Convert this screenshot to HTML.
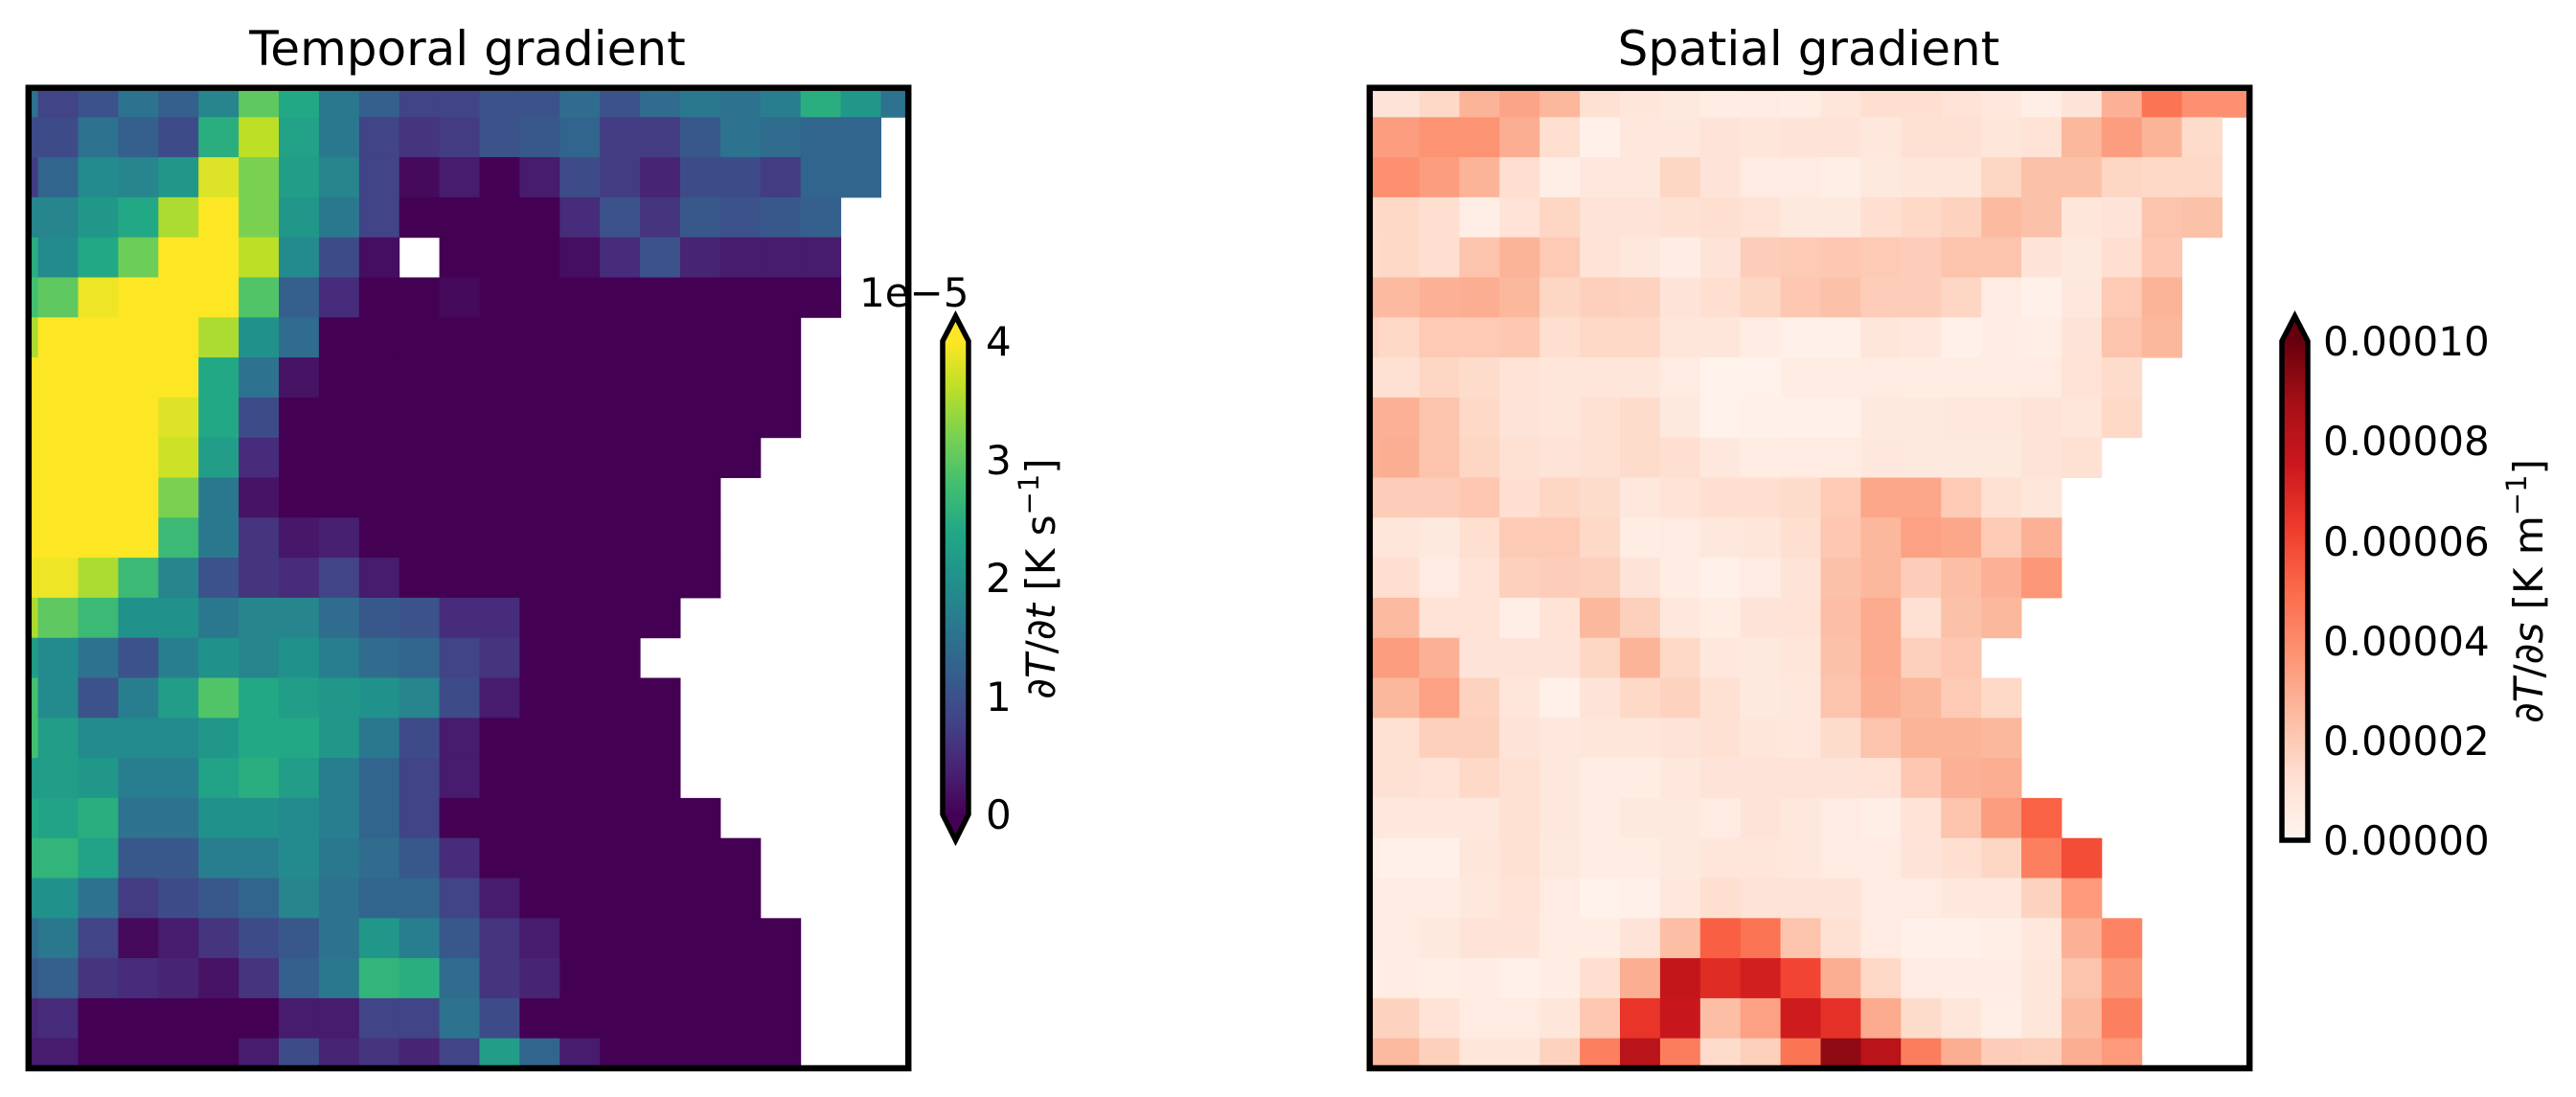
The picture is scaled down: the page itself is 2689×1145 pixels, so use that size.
<!DOCTYPE html>
<html><head><meta charset="utf-8"><style>
html,body{margin:0;padding:0;background:#fff;}
svg{display:block;}
text{font-family:"DejaVu Sans","Liberation Sans",sans-serif;fill:#000;}
</style></head><body>
<svg id="s" xmlns="http://www.w3.org/2000/svg" width="2689" height="1145" viewBox="0 0 2689 1145">
<defs>
<clipPath id="c1"><rect x="33" y="95" width="912" height="1017"/></clipPath>
<clipPath id="c2"><rect x="1433" y="95" width="912" height="1017"/></clipPath>
<linearGradient id="gv" x1="0" y1="1" x2="0" y2="0">
<stop offset="0" stop-color="#440154"/><stop offset="0.1" stop-color="#482475"/><stop offset="0.2" stop-color="#414487"/><stop offset="0.3" stop-color="#355f8d"/><stop offset="0.4" stop-color="#2a788e"/><stop offset="0.5" stop-color="#21918c"/><stop offset="0.6" stop-color="#22a884"/><stop offset="0.7" stop-color="#44bf70"/><stop offset="0.8" stop-color="#7ad151"/><stop offset="0.9" stop-color="#bddf26"/><stop offset="1" stop-color="#fde725"/>
</linearGradient>
<linearGradient id="gr" x1="0" y1="1" x2="0" y2="0">
<stop offset="0" stop-color="#fff5f0"/><stop offset="0.125" stop-color="#fee0d2"/><stop offset="0.25" stop-color="#fcbba1"/><stop offset="0.375" stop-color="#fc9272"/><stop offset="0.5" stop-color="#fb6a4a"/><stop offset="0.625" stop-color="#ef3b2c"/><stop offset="0.75" stop-color="#cb181d"/><stop offset="0.875" stop-color="#a50f15"/><stop offset="1" stop-color="#67000d"/>
</linearGradient>
</defs>
<g id="g1" clip-path="url(#c1)"></g>
<g id="g2" clip-path="url(#c2)"></g>
<rect x="29.8" y="91.7" width="918.4" height="1023.3" fill="none" stroke="#000" stroke-width="6.5"/>
<rect x="1429.8" y="91.7" width="918.4" height="1023.3" fill="none" stroke="#000" stroke-width="6.5"/>
<text x="488" y="68" font-size="50" text-anchor="middle">Temporal gradient</text>
<text x="1888" y="68" font-size="50" text-anchor="middle">Spatial gradient</text>

<!-- left colorbar -->
<rect x="984" y="355" width="27" height="496" fill="url(#gv)"/>
<polygon points="984,356 997.5,330 1011,356" fill="#fde725"/>
<polygon points="984,850 997.5,877 1011,850" fill="#440154"/>
<polygon points="984,356 997.5,330 1011,356 1011,850 997.5,877 984,850" fill="none" stroke="#000" stroke-width="5.5" stroke-linejoin="miter"/>
<g font-size="42">
<text x="1029" y="371">4</text>
<text x="1029" y="495">3</text>
<text x="1029" y="618">2</text>
<text x="1029" y="742">1</text>
<text x="1029" y="865">0</text>
<text x="897" y="320">1e−5</text>
</g>
<text transform="translate(1101,604) rotate(-90)" font-size="42" text-anchor="middle">∂<tspan font-style="italic">T</tspan>/∂<tspan font-style="italic">t</tspan> [K s<tspan font-size="29" dy="-17">−1</tspan><tspan dy="17">]</tspan></text>

<!-- right colorbar -->
<rect x="2382" y="355" width="27" height="522" fill="url(#gr)"/>
<polygon points="2382,356 2395.5,330 2409,356" fill="#67000d"/>
<polygon points="2382,356 2395.5,330 2409,356 2409,877 2382,877" fill="none" stroke="#000" stroke-width="5.5"/>
<g font-size="42">
<text x="2425" y="371">0.00010</text>
<text x="2425" y="475">0.00008</text>
<text x="2425" y="580">0.00006</text>
<text x="2425" y="684">0.00004</text>
<text x="2425" y="788">0.00002</text>
<text x="2425" y="892">0.00000</text>
</g>
<text transform="translate(2654,617) rotate(-90)" font-size="42" text-anchor="middle">∂<tspan font-style="italic">T</tspan>/∂<tspan font-style="italic">s</tspan> [K m<tspan font-size="29" dy="-17">−1</tspan><tspan dy="17">]</tspan></text>
</svg>
<script>
var L=[
"1.5 0.8 1 1.5 1.2 1.8 3 2.4 1.6 1.2 0.8 0.8 1 1 1.4 1 1.4 1.6 1.5 1.7 2.5 2.1 1.5",
"0.9 0.9 1.5 1.2 0.9 2.5 3.6 2.3 1.6 0.8 0.6 0.7 1 1.1 1.3 0.7 0.7 1.1 1.5 1.4 1.3 1.3 -",
"0.7 1.3 1.9 1.8 2.1 3.8 3.2 2.2 1.8 0.8 0.1 0.3 0 0.3 0.9 0.7 0.4 0.9 0.9 0.7 1.3 1.3 -",
"1.8 1.8 2.1 2.4 3.5 4 3.2 2.1 1.6 0.8 0 0 0 0 0.5 1 0.6 1.1 1 1.1 1.2 - -",
"2.5 1.9 2.4 3.1 4 4 3.6 1.9 0.9 0.15 - 0 0 0 0.15 0.5 1 0.4 0.3 0.3 0.3 - -",
"2.8 3 3.9 4 4 4 2.9 1.2 0.5 0 0 0.1 0 0 0 0 0 0 0 0 0 - -",
"3.5 4 4 4 4 3.5 2 1.4 0 0 0 0 0 0 0 0 0 0 0 0 - - -",
"4 4 4 4 4 2.4 1.5 0.2 0 0 0 0 0 0 0 0 0 0 0 0 - - -",
"4 4 4 4 3.8 2.4 0.9 0 0 0 0 0 0 0 0 0 0 0 0 0 - - -",
"4 4 4 4 3.7 2.2 0.5 0 0 0 0 0 0 0 0 0 0 0 0 - - - -",
"4 4 4 4 3.2 1.6 0.2 0 0 0 0 0 0 0 0 0 0 0 - - - - -",
"4 4 4 4 2.7 1.6 0.6 0.25 0.35 0 0 0 0 0 0 0 0 0 - - - - -",
"3.9 3.9 3.5 2.7 1.8 1 0.6 0.5 0.8 0.3 0 0 0 0 0 0 0 0 - - - - -",
"3.5 3 2.7 2 2 1.6 1.8 1.8 1.4 1.1 1 0.5 0.5 0 0 0 0 - - - - - -",
"2.2 1.9 1.5 1 1.7 2 1.8 2 1.7 1.4 1.3 0.8 0.6 0 0 0 - - - - - - -",
"2.8 1.9 1 1.7 2.2 2.9 2.4 2.2 2.1 2 1.8 0.9 0.3 0 0 0 0 - - - - - -",
"2.8 2.2 1.9 1.9 1.9 2.1 2.4 2.4 2.1 1.6 0.9 0.3 0 0 0 0 0 - - - - - -",
"2.2 2.2 2.1 1.7 1.7 2.3 2.5 2.2 1.7 1.3 0.8 0.3 0 0 0 0 0 - - - - - -",
"2.4 2.3 2.5 1.5 1.5 2 2 1.9 1.7 1.3 0.8 0 0 0 0 0 0 0 - - - - -",
"2.6 2.6 2.3 1.1 1.1 1.7 1.7 1.9 1.6 1.4 1.1 0.5 0 0 0 0 0 0 0 - - - -",
"2 2 1.5 0.7 0.9 1.1 1.3 1.8 1.5 1.3 1.3 0.8 0.3 0 0 0 0 0 0 - - - -",
"1.4 1.6 0.8 0.1 0.3 0.6 0.9 1.1 1.5 2.1 1.7 1.1 0.6 0.3 0 0 0 0 0 0 - - -",
"1.1 1.2 0.6 0.5 0.4 0.2 0.6 1.2 1.6 2.6 2.5 1.4 0.6 0.4 0 0 0 0 0 0 - - -",
"0.4 0.5 0 0 0 0 0 0.3 0.3 0.8 0.8 1.5 0.9 0 0 0 0 0 0 0 - - -",
"0.3 0.3 0 0 0 0 0.3 0.9 0.4 0.6 0.4 0.8 2.2 1.3 0.3 0 0 0 0 0 - - -"];
var R=[
"1 1 1.5 2.7 3.2 2.6 1.2 0.9 0.7 0.5 0.6 0.5 0.9 1.3 1.3 1.1 0.8 0.4 1 2.8 4.7 3.8 3.8",
"3.4 3.4 3.7 3.7 2.9 1.3 0.3 0.8 0.8 1 0.9 1 1 0.8 1.2 1.2 0.9 1.1 2.6 3.4 2.7 1.4 -",
"3.8 3.8 3.4 2.7 1.3 0.4 0.8 0.8 1.6 1 0.6 0.6 0.4 0.7 0.9 0.9 1.6 2.3 2.3 1.6 1.5 1.5 -",
"1.5 1.5 1.3 0.4 1.1 1.6 1 1 1.2 1.3 1.1 0.7 0.7 1.3 1.5 1.7 2.5 2.3 0.9 1 2.2 2.3 -",
"1.4 1.5 1.3 2.2 2.7 2 1.1 0.8 0.5 1 1.9 2 2.1 2 1.9 2.2 2.2 1 0.7 1.3 2.1 - -",
"2.5 2.5 2.8 2.9 2.6 1.6 1.8 1.7 1 1.3 1.6 2.1 2.3 1.9 1.9 1.6 0.6 0.3 0.8 2 2.7 - -",
"1.7 1.5 2 2 2.1 1.3 1.5 1.5 0.9 0.9 0.5 0.3 0.3 0.9 0.8 0.3 0.5 0.4 1 2.2 2.6 - -",
"1.2 1.2 1.6 1.4 1.1 0.9 0.9 0.9 0.6 0.2 0.2 0.5 0.5 0.6 0.5 0.5 0.5 0.6 1.1 1.4 - - -",
"2.8 2.8 2.2 1.5 1 0.9 1.2 1.4 0.7 0.2 0.3 0.3 0.3 0.7 0.7 0.8 0.8 1 0.9 1.5 - - -",
"2.8 2.9 2.2 1.6 1.2 1 1.2 1.4 1.3 0.8 0.5 0.6 0.6 0.8 0.7 0.7 0.7 1 1.2 - - - -",
"1.9 1.9 1.9 2.1 1.3 1.6 1.4 0.8 1.1 1.3 1.3 1.4 2 3.1 3.1 2 1.2 0.9 - - - - -",
"0.9 0.9 0.7 1.3 2 2 1.5 0.5 0.6 0.8 0.9 1.3 2.1 2.6 3.3 3.1 2 2.8 - - - - -",
"1.3 1.3 0.6 1.1 1.8 1.9 1.8 1 0.5 0.3 0.6 1 2.3 2.6 1.9 2.4 2.8 3.6 - - - - -",
"2.5 2.5 1.1 1.1 0.4 1.1 2.6 1.8 0.8 0.5 1 1.1 2.4 3 1.2 2.3 2.6 - - - - - -",
"3.4 3.4 2.8 1 1 1 1.6 2.7 1.5 0.8 0.7 0.9 2.3 3 1.8 2.1 - - - - - - -",
"2.6 2.6 3.3 1.7 0.9 0.3 1 1.5 1.7 1.2 0.7 0.8 2.2 2.9 2.6 2 1.5 - - - - - -",
"1.2 1.2 1.8 1.8 1 0.8 0.9 0.9 1 1.2 0.9 0.8 1.4 2.2 2.7 2.7 2.6 - - - - - -",
"1.2 1.2 1.1 1.5 1.2 0.8 0.5 0.5 0.8 1 1 1 1 1.1 2.1 2.8 2.9 - - - - - -",
"0.8 0.8 0.8 0.8 1.2 0.8 0.5 0.7 0.7 0.6 1 0.8 0.6 0.4 1.1 2.2 3.4 5.2 - - - - -",
"0.4 0.3 0.3 0.9 1.2 0.7 0.5 0.5 0.7 0.9 0.9 0.8 0.6 0.6 1 1.3 1.6 4.3 5.8 - - - -",
"0.6 0.6 0.5 0.8 1.1 0.6 0.2 0.3 0.8 1.3 1 1 1 0.6 0.6 0.8 0.8 1.7 3.5 - - - -",
"0.5 0.6 0.7 1 1 0.5 0.5 1 2.4 5.3 4.7 2.2 1.2 0.6 0.3 0.3 0.4 0.8 2.8 4.2 - - -",
"0.4 0.5 0.4 0.5 0.3 0.5 1.3 2.9 7.8 6.8 7.3 6 2.9 1.5 0.6 0.5 0.5 0.9 2.2 3.6 - - -",
"1.7 1.7 1.1 0.6 0.6 0.9 2.1 6.5 7.6 2.4 3.3 7.4 6.6 3 1.4 0.9 0.4 0.9 2.5 4.3 - - -",
"2.5 2.5 1.8 0.9 0.9 1.7 4.3 8.1 4.4 1.4 1.8 4.7 9.2 8.1 4.4 2.9 1.9 1.8 2.9 3.5 - - -"];
var V=["#440154","#482475","#414487","#355f8d","#2a788e","#21918c","#22a884","#44bf70","#7ad151","#bddf26","#fde725"];
var Rd=["#fff5f0","#fee0d2","#fcbba1","#fc9272","#fb6a4a","#ef3b2c","#cb181d","#a50f15","#67000d"];
function h2r(h){return [parseInt(h.substr(1,2),16),parseInt(h.substr(3,2),16),parseInt(h.substr(5,2),16)];}
function cmap(st,t){t=Math.max(0,Math.min(1,t));var n=st.length-1,p=t*n,i=Math.min(Math.floor(p),n-1),f=p-i;var a=h2r(st[i]),b=h2r(st[i+1]);
return "rgb("+[0,1,2].map(function(k){return Math.round(a[k]+(b[k]-a[k])*f);}).join(",")+")";}
var NS="http://www.w3.org/2000/svg";
function draw(gid,data,st,vmax,ox){var g=document.getElementById(gid);
for(var i=0;i<data.length;i++){var row=data[i].split(" ");
for(var j=0;j<row.length;j++){if(row[j]==="-")continue;var v=parseFloat(row[j]);
var r=document.createElementNS(NS,"rect");
var x=ox+39.6+(j-1)*41.9,y=122.3+(i-1)*41.8;
r.setAttribute("x",x.toFixed(2));r.setAttribute("y",y.toFixed(2));
r.setAttribute("width","42.4");r.setAttribute("height","42.3");
r.setAttribute("fill",cmap(st,v/vmax));g.appendChild(r);}}}
draw("g1",L,V,4,0);
draw("g2",R,Rd,10,1400);
</script>
</body></html>
